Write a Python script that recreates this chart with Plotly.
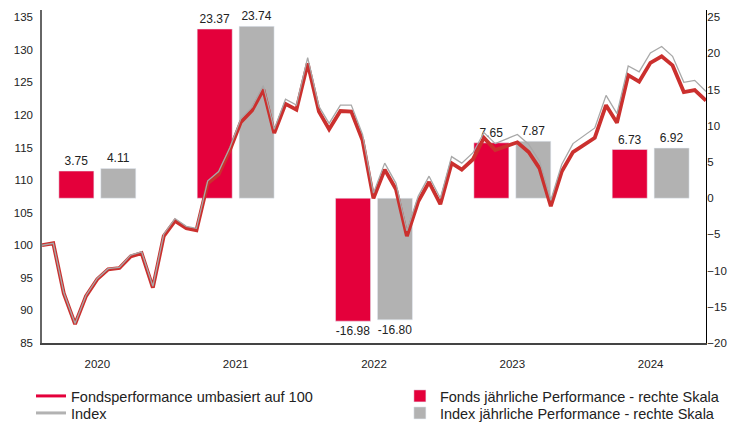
import pandas as pd
import plotly.graph_objects as go

# ---- data ----
years = ["2020", "2021", "2022", "2023", "2024"]
fund_annual = [3.75, 23.37, -16.98, 7.65, 6.73]
index_annual = [4.11, 23.74, -16.80, 7.87, 6.92]

months = pd.date_range("2019-12-31", periods=61, freq="ME")
fund_perf = [
    100.0, 100.3, 92.6, 87.9, 92.2, 94.8, 96.3, 96.5, 98.3, 98.8, 93.5, 101.4, 103.75,
    102.6, 102.3, 109.5, 110.9, 114.6, 118.9, 120.7, 123.9, 117.2, 121.7, 120.8, 127.9,
    120.5, 117.8, 120.6, 120.5, 116.1, 107.2, 111.6, 108.6, 101.4, 106.7, 109.7, 106.3,
    112.6, 111.6, 113.2, 116.5, 114.6, 115.2, 115.8, 114.3, 111.8, 106.0, 111.3, 114.3,
    115.5, 116.5, 121.5, 118.8, 126.1, 125.1, 128.0, 129.0, 127.6, 123.5, 123.8, 122.2,
]
index_perf = [
    100.0, 100.3, 92.7, 88.0, 92.3, 94.9, 96.4, 96.6, 98.5, 99.0, 93.7, 101.7, 104.1,
    102.9, 102.6, 109.9, 111.3, 115.0, 119.4, 121.2, 124.5, 117.8, 122.4, 121.5, 128.8,
    121.3, 118.7, 121.5, 121.5, 117.0, 108.0, 112.6, 109.5, 102.2, 107.5, 110.6, 107.2,
    113.6, 112.6, 114.2, 117.3, 115.6, 116.3, 117.0, 115.5, 112.9, 106.9, 112.4, 115.6,
    116.9, 118.0, 123.0, 120.2, 127.5, 126.6, 129.5, 130.5, 129.0, 125.0, 125.3, 123.6,
]
left_ticks = list(range(85, 136, 5))
right_ticks = list(range(-20, 26, 5))

FUND_RED = "#e4003b"
LINE_RED = "#cb302e"
GRAY = "#b2b2b2"
FONT = "Liberation Sans, Arial, sans-serif"

fig = go.Figure()

cats = list(range(len(years)))
fig.add_trace(go.Bar(
    x=cats, y=fund_annual, name="Fonds jährliche Performance - rechte Skala",
    marker_color=FUND_RED, width=0.253, offset=-0.278,
    texttemplate="%{y:.2f}", textposition="outside", cliponaxis=False,
    textfont=dict(size=12, color="#222"), legend="legend2",
    xaxis="x", yaxis="y",
))
fig.add_trace(go.Bar(
    x=cats, y=index_annual, name="Index jährliche Performance - rechte Skala",
    marker_color=GRAY, width=0.253, offset=0.025,
    texttemplate="%{y:.2f}", textposition="outside", cliponaxis=False,
    textfont=dict(size=12, color="#222"), legend="legend4",
    xaxis="x", yaxis="y",
))

fig.add_trace(go.Scatter(
    x=months, y=fund_perf, mode="lines", line=dict(color=LINE_RED, width=3.8),
    showlegend=False, xaxis="x2", yaxis="y2", name="Fondsperformance umbasiert auf 100",
))
fig.add_trace(go.Scatter(
    x=months, y=index_perf, mode="lines", line=dict(color="#a8a8a8", width=1.3),
    showlegend=False, xaxis="x2", yaxis="y2", name="Index",
))
# legend entries
fig.add_trace(go.Scatter(
    x=[None], y=[None], mode="lines", line=dict(color=FUND_RED, width=3),
    name="Fondsperformance umbasiert auf 100", legend="legend", xaxis="x2", yaxis="y2",
))
fig.add_trace(go.Scatter(
    x=[None], y=[None], mode="lines", line=dict(color=GRAY, width=3),
    name="Index", legend="legend3", xaxis="x2", yaxis="y2",
))

leg_common = dict(
    xanchor="left", yanchor="top", orientation="v",
    font=dict(size=14.5, color="#222"), bgcolor="rgba(0,0,0,0)", itemwidth=30,
    tracegroupgap=0,
)

# page has an 8px body margin: figure is placed at (8, 8); the window crops the rest
fig.update_layout(
    width=729, height=423,
    margin=dict(l=34, r=31, t=2, b=88, autoexpand=False),
    paper_bgcolor="white", plot_bgcolor="white",
    font=dict(family=FONT, size=12, color="#222"),
    barmode="overlay",
    xaxis=dict(
        range=[-0.4, 4.4], tickvals=cats, ticktext=years, showgrid=False, zeroline=False,
        showline=True, linecolor="#444", linewidth=1.5, ticks="", ticklabelstandoff=9,
        tickfont=dict(size=11.5), automargin=False,
    ),
    xaxis2=dict(
        overlaying="x", range=[months[0], months[-1]], visible=False,
    ),
    yaxis=dict(
        side="right", range=[-20, 26], tickvals=right_ticks, showgrid=False, zeroline=False,
        showline=True, linecolor="#000", linewidth=1, ticks="", ticklabelstandoff=-2,
        tickfont=dict(size=11.5), automargin=False,
    ),
    yaxis2=dict(
        overlaying="y", side="left", range=[85, 136.1], tickvals=left_ticks, showgrid=False,
        zeroline=False, showline=True, linecolor="#666", linewidth=1.5, ticks="",
        ticklabelstandoff=5, tickfont=dict(size=11.5), automargin=False,
    ),
    legend=dict(x=-0.0166, y=-0.1111, **leg_common),
    legend3=dict(x=-0.0166, y=-0.1622, **leg_common),
    legend2=dict(x=0.539, y=-0.1111, **leg_common),
    legend4=dict(x=0.539, y=-0.1622, **leg_common),
)

fig.write_html("out.html")
